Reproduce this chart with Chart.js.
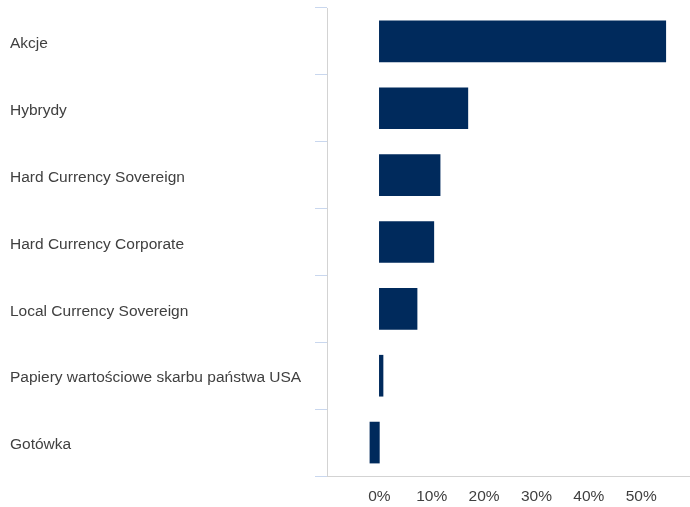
<!DOCTYPE html>
<html>
<head>
<meta charset="utf-8">
<script src="https://cdn.jsdelivr.net/npm/chart.js@4/dist/chart.umd.min.js"></script>
<style>
    body { margin: 0; background: #fff; }
    #chart { display: block; }
</style>
</head>
<body>
<canvas id="chart" width="690" height="507"></canvas>
<script>
const categories = [
    "Akcje",
    "Hybrydy",
    "Hard Currency Sovereign",
    "Hard Currency Corporate",
    "Local Currency Sovereign",
    "Papiery wartościowe skarbu państwa USA",
    "Gotówka"
];
const values = [54.7, 16.9, 11.6, 10.4, 7.2, 0.7, -1.8];
const tickValues = [0, 10, 20, 30, 40, 50];

const ctx = document.getElementById("chart").getContext("2d");

new Chart(ctx, {
    type: "bar",
    data: {
        labels: categories,
        datasets: [{
            data: values,
            backgroundColor: "#002A5C",
            borderWidth: 0,
            barThickness: 41
        }]
    },
    options: {
        indexAxis: "y",
        responsive: false,
        animation: false,
        layout: { padding: { left: 10, top: 8, right: 0, bottom: 0 } },
        plugins: {
            legend: { display: false },
            tooltip: { enabled: false }
        },
        scales: {
            x: {
                min: -10,
                max: 59.33,
                afterBuildTicks: axis => {
                    axis.ticks = tickValues.map(v => ({ value: v }));
                },
                afterFit: axis => {
                    axis.height = 31;
                    axis.paddingLeft = 0;
                    axis.paddingRight = 0;
                },
                grid: { display: false, drawTicks: false },
                border: { display: true, color: "#d3d3d3", width: 1 },
                ticks: {
                    padding: 11,
                    color: "#404040",
                    font: { family: "Liberation Sans, Arial", size: 15.5 },
                    callback: v => v + "%"
                }
            },
            y: {
                afterFit: axis => {
                    axis.width = 317;
                    axis.paddingTop = 0;
                    axis.paddingBottom = 0;
                },
                grid: {
                    offset: true,
                    drawOnChartArea: false,
                    tickLength: 12,
                    color: "#c9d7ee"
                },
                border: { display: true, color: "#d3d3d3", width: 1 },
                ticks: {
                    crossAlign: "far",
                    labelOffset: 2.5,
                    color: "#404040",
                    font: { family: "Liberation Sans, Arial", size: 15.5 }
                }
            }
        }
    }
});
</script>
</body>
</html>
